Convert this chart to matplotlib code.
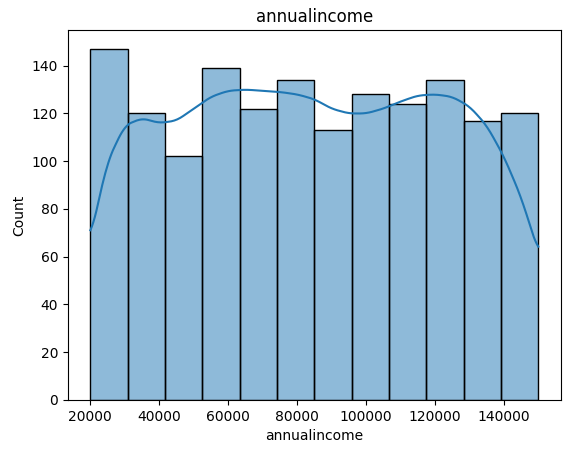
import numpy as np
import matplotlib.pyplot as plt

# histogram counts, 12 bins over 20000..150000
bin_lo, bin_hi = 20000, 150000
counts = [147, 120, 102, 139, 122, 134, 113, 128, 124, 134, 117, 120]

# kde curve (scaled to counts)
kde_x = [20000, 25000, 30000, 35000, 40000, 45000, 50000, 55000, 60000, 65000,
         70000, 75000, 80000, 85000, 90000, 95000, 100000, 105000, 110000,
         115000, 120000, 125000, 130000, 135000, 140000, 145000, 150000]
kde_y = [68, 100, 115, 118, 116, 117, 122, 127, 129.5, 130, 129.5, 129, 128,
         126, 122, 120, 120, 122, 125, 127.5, 128, 127, 123, 115, 102, 85, 62]

edges = np.linspace(bin_lo, bin_hi, len(counts) + 1)

fig = plt.figure(figsize=(5.71, 4.53), dpi=100)
ax = fig.add_axes([0.119, 0.117, 0.863, 0.817])
ax.bar(edges[:-1], counts, width=np.diff(edges), align='edge',
       color='#1f77b4', alpha=0.5, edgecolor='none')
ax.bar(edges[:-1], counts, width=np.diff(edges), align='edge',
       fill=False, edgecolor='black', linewidth=1)

# smooth the read-off points with a cubic-ish spline through them
xs = np.linspace(bin_lo, bin_hi, 300)
ys = np.interp(xs, kde_x, kde_y)
k = np.ones(9) / 9
ys_s = np.convolve(np.pad(ys, 4, mode='edge'), k, mode='valid')
ax.plot(xs, ys_s, color='#1f77b4', linewidth=1.5)

ax.set_ylim(0, 155)
ax.set_xlim(bin_lo - 6500, bin_hi + 6500)
ax.set_xticks([20000, 40000, 60000, 80000, 100000, 120000, 140000])
ax.set_xlabel('annualincome')
ax.set_ylabel('Count')
ax.set_title('annualincome')
fig.savefig('out.png')
